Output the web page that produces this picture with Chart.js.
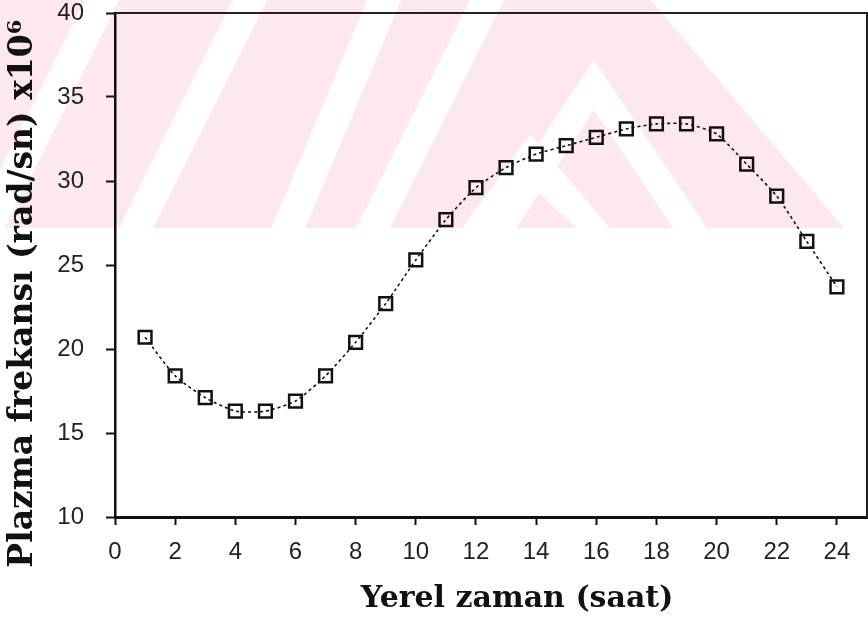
<!DOCTYPE html>
<html>
<head>
<meta charset="utf-8">
<script src="https://cdn.jsdelivr.net/npm/chart.js@4"></script>
<style>
  html, body { margin: 0; padding: 0; background: #fff; }
  #wrap { width: 868px; height: 617px; position: relative; }
</style>
</head>
<body>
<div id="wrap"><canvas id="plasmaChart"></canvas></div>
<script>
// hours of local time and plasma frequency (rad/s, x10^6)
const hours = [1, 2, 3, 4, 5, 6, 7, 8, 9, 10, 11, 12, 13, 14, 15, 16, 17, 18, 19, 20, 21, 22, 23, 24];
const plasmaFreq = [20.7, 18.4, 17.1, 16.3, 16.3, 16.9, 18.4, 20.4, 22.7, 25.3, 27.7, 29.6,
                    30.8, 31.6, 32.1, 32.6, 33.1, 33.4, 33.4, 32.8, 31.0, 29.1, 26.4, 23.7];
const xTicks = [0, 2, 4, 6, 8, 10, 12, 14, 16, 18, 20, 22, 24];
const yTicks = [10, 15, 20, 25, 30, 35, 40];

const tickFont = { family: "'Liberation Sans Narrow', 'Liberation Sans', sans-serif", size: 24 };
const NBSP = '\u00a0';

// faint pink watermark stripes behind the top of the plot (scan background)
const watermark = {
    id: 'watermark',
    beforeDraw(chart) {
        const ctx = chart.ctx;
        ctx.save();
        ctx.fillStyle = '#fde9ed';
        ctx.beginPath();
        ctx.moveTo(0, 0); ctx.lineTo(651, 0); ctx.lineTo(844, 228); ctx.lineTo(0, 228);
        ctx.closePath();
        ctx.fill();
        ctx.fillStyle = '#ffffff';
        const stripes = [[85, 0.5], [233, 0.5], [367, 0.42], [470, 0.5]];
        stripes.forEach(([x, s]) => {
            ctx.beginPath();
            ctx.moveTo(x, 0); ctx.lineTo(x + 34, 0);
            ctx.lineTo(x + 34 - 228 * s, 228); ctx.lineTo(x - 228 * s, 228);
            ctx.closePath();
            ctx.fill();
        });
        const chevrons = [[594, 60, 482, 707], [530, 134, 462, 610]];
        chevrons.forEach(([ax, ay, lx, rx]) => {
            ctx.beginPath();
            ctx.moveTo(lx, 228); ctx.lineTo(ax, ay); ctx.lineTo(rx, 228);
            ctx.lineTo(rx - 34, 228); ctx.lineTo(ax, ay + 50); ctx.lineTo(lx + 34, 228);
            ctx.closePath();
            ctx.fill();
        });
        ctx.restore();
    }
};

const plasmaChart = new Chart(document.getElementById('plasmaChart').getContext('2d'), {
    type: 'line',
    data: {
        datasets: [{
            data: hours.map((h, i) => ({ x: h, y: plasmaFreq[i] })),
            borderColor: '#111',
            borderWidth: 1.6,
            borderDash: [3, 3],
            tension: 0.2,
            pointStyle: 'rect',
            pointRadius: 9,
            pointBorderWidth: 2.5,
            pointBorderColor: '#111',
            pointBackgroundColor: 'rgba(0,0,0,0)'
        }]
    },
    options: {
        responsive: true,
        maintainAspectRatio: false,
        animation: false,
        layout: { autoPadding: false, padding: { left: 4, right: 1, top: 13, bottom: 0 } },
        plugins: { legend: { display: false }, tooltip: { enabled: false } },
        scales: {
            x: {
                type: 'linear',
                min: 0,
                max: 25,
                afterBuildTicks: axis => { axis.ticks = xTicks.map(v => ({ value: v })); },
                afterFit: axis => {
                    axis.height = 100;
                    axis.paddingLeft = 0;
                    axis.paddingRight = 0;
                },
                ticks: { color: '#222', font: tickFont, padding: 13, maxRotation: 0 },
                grid: { drawOnChartArea: false, tickLength: 8, tickWidth: 2, color: '#111' },
                border: { color: '#111', width: 3 },
                title: {
                    display: true,
                    text: NBSP.repeat(5) + 'Yerel zaman (saat)',
                    color: '#111',
                    font: { family: "'DejaVu Serif', serif", size: 30, weight: 'bold' },
                    padding: { top: 4, bottom: 0 }
                }
            },
            xTop: {
                type: 'linear',
                position: 'top',
                min: 0,
                max: 25,
                ticks: { display: false },
                grid: { display: false, drawTicks: false },
                border: { color: '#222', width: 2, dash: [14, 3] },
                afterFit: axis => {
                    axis.height = 0;
                    axis.paddingLeft = 0;
                    axis.paddingRight = 0;
                }
            },
            y: {
                type: 'linear',
                min: 10,
                max: 40,
                afterBuildTicks: axis => { axis.ticks = yTicks.map(v => ({ value: v })); },
                afterFit: axis => {
                    axis.width = 111;
                    axis.paddingTop = 0;
                    axis.paddingBottom = 0;
                },
                ticks: { color: '#222', font: tickFont, padding: 22 },
                grid: { drawOnChartArea: false, tickLength: 9, tickWidth: 2, color: '#111' },
                border: { color: '#111', width: 2.5 },
                title: {
                    display: true,
                    text: 'Plazma frekansı (rad/sn) x10⁶' + NBSP.repeat(5),
                    color: '#111',
                    font: { family: "'DejaVu Serif', serif", size: 33, weight: 'bold' },
                    padding: { top: 0, bottom: 2 }
                }
            },
            yRight: {
                type: 'linear',
                position: 'right',
                min: 10,
                max: 40,
                ticks: { display: false },
                grid: { display: false, drawTicks: false },
                border: { color: '#222', width: 2 },
                afterFit: axis => {
                    axis.width = 0;
                    axis.paddingTop = 0;
                    axis.paddingBottom = 0;
                }
            }
        }
    },
    plugins: [watermark]
});
</script>
</body>
</html>
